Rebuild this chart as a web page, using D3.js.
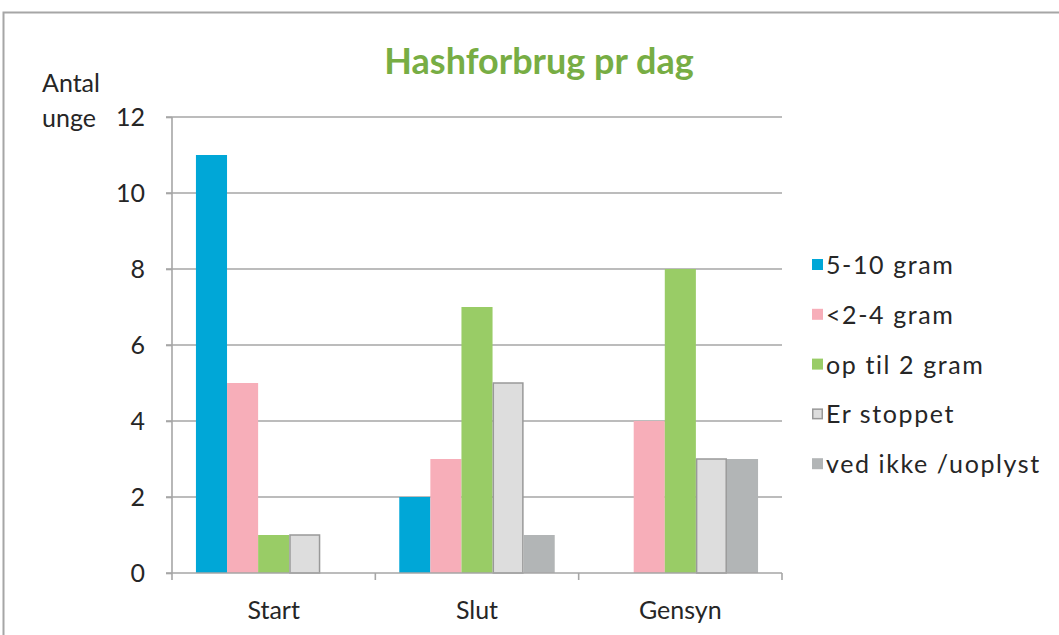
<!DOCTYPE html>
<html><head><meta charset="utf-8">
<script src="https://cdn.jsdelivr.net/npm/d3@7"></script>
<style>body{margin:0;background:#fff;} svg{display:block;font-family:Lato, "Open Sans", sans-serif;}</style>
</head><body>
<svg id="c" width="1059" height="635"></svg>
<script>
const categories = ["Start", "Slut", "Gensyn"];
const seriesNames = ["5-10 gram", "<2-4 gram", "op til 2 gram", "Er stoppet", "ved ikke /uoplyst"];
const s510 = [11, 2, 0];
const s24 = [5, 3, 4];
const s2 = [1, 7, 8];
const stopped = [1, 5, 3];
const unknown = [0, 1, 3];
const yTicks = [0, 2, 4, 6, 8, 10, 12];
const colors = ["#00A7D7", "#F7AEB9", "#99CC66", "#DDDDDD", "#B2B5B6"];
const strokes = [null, null, null, "#999999", null];
const seriesVals = [s510, s24, s2, stopped, unknown];
const FS = 25;
const TXT = "#262626";

const svg = d3.select("#c");
svg.append("rect").attr("x", 3.5).attr("y", 12.5).attr("width", 1070).attr("height", 640)
  .attr("fill", "none").attr("stroke", "#A6A6A6").attr("stroke-width", 2);

const x0 = d3.scaleBand().domain(categories).range([172, 782]).paddingInner(0).paddingOuter(0);
const x1 = d3.scaleBand().domain(seriesNames).range([0, x0.bandwidth()]).paddingInner(0).paddingOuter(0.77);
const y = d3.scaleLinear().domain([0, 12]).range([573, 117]);

svg.append("g").selectAll("line").data(yTicks.filter(d => d > 0)).join("line")
  .attr("x1", 166).attr("x2", 782).attr("y1", d => y(d)).attr("y2", d => y(d))
  .attr("stroke", "#A6A6A6").attr("stroke-width", 1.6);

const data = [];
categories.forEach((c, i) => seriesNames.forEach((s, j) => data.push({c, s, j, v: seriesVals[j][i]})));
svg.append("g").selectAll("rect").data(data.filter(d => d.v > 0)).join("rect")
  .attr("x", d => x0(d.c) + x1(d.s) + (strokes[d.j] ? 0.75 : 0))
  .attr("y", d => y(d.v))
  .attr("width", d => x1.bandwidth() - (strokes[d.j] ? 1.5 : 0))
  .attr("height", d => y(0) - y(d.v))
  .attr("fill", d => colors[d.j])
  .attr("stroke", d => strokes[d.j] || "none")
  .attr("stroke-width", 1.5);

const yAxis = d3.axisLeft(y).tickValues(yTicks).tickSize(6).tickPadding(21);
const ya = svg.append("g").attr("transform", "translate(172,0)").call(yAxis);
ya.select(".domain").attr("stroke", "#A6A6A6").attr("stroke-width", 1.6).attr("d", "M0,117V573");
ya.selectAll(".tick line").attr("stroke", "#A6A6A6").attr("stroke-width", 1.6);
ya.selectAll(".tick text").attr("font-size", FS).attr("fill", TXT).attr("font-family", "Lato");

const xa = svg.append("g").attr("transform", "translate(0,573)");
xa.append("line").attr("x1", 166).attr("x2", 782).attr("y1", 0).attr("y2", 0).attr("stroke", "#A6A6A6").attr("stroke-width", 1.6);
const xTicks = categories.map(c => x0(c)).concat([x0.range()[1]]);
xa.selectAll("line.t").data(xTicks).join("line").attr("class", "t")
  .attr("x1", d => d).attr("x2", d => d).attr("y1", 0).attr("y2", 7)
  .attr("stroke", "#A6A6A6").attr("stroke-width", 1.6);
xa.selectAll("text").data(categories).join("text")
  .attr("x", d => x0(d) + x0.bandwidth() / 2).attr("y", 46)
  .attr("text-anchor", "middle").attr("font-size", FS).attr("fill", TXT).text(d => d);

svg.append("text").attr("x", 539).attr("y", 74).attr("text-anchor", "middle")
  .attr("font-size", 36).attr("font-weight", "bold").attr("fill", "#77AD44").text("Hashforbrug pr dag");

svg.append("text").attr("x", 42).attr("y", 92).attr("font-size", FS).attr("fill", TXT).text("Antal");
svg.append("text").attr("x", 42).attr("y", 127).attr("font-size", FS).attr("fill", TXT).text("unge");

const lg = svg.append("g").selectAll("g").data(seriesNames).join("g")
  .attr("transform", (d, i) => `translate(812,${265 + i * 49.8})`);
lg.append("rect").attr("x", (d, i) => strokes[i] ? 0.75 : 0).attr("y", (d, i) => strokes[i] ? -5.25 : -6)
  .attr("width", (d, i) => strokes[i] ? 9.5 : 11)
  .attr("height", (d, i) => strokes[i] ? 9.5 : 11)
  .attr("fill", (d, i) => colors[i]).attr("stroke", (d, i) => strokes[i] || "none").attr("stroke-width", 1.5);
lg.append("text").attr("x", 14).attr("y", 9).attr("font-size", FS).attr("fill", TXT)
  .attr("letter-spacing", 1.6).text(d => d);
</script>
</body></html>
